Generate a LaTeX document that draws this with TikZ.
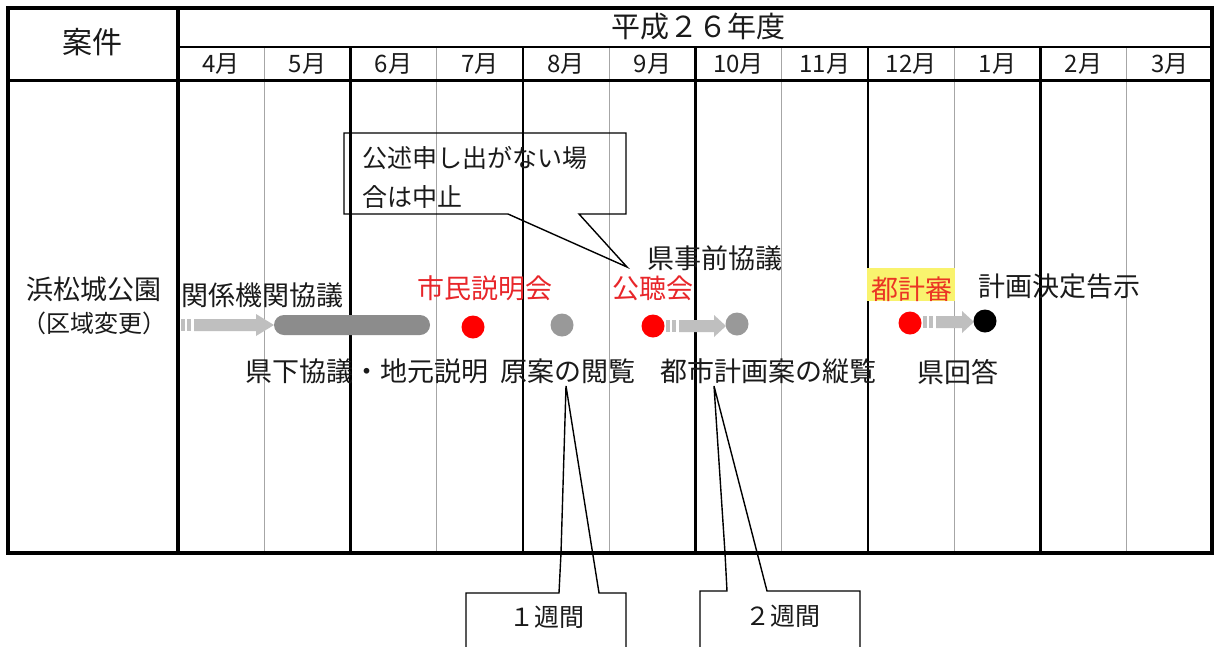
\documentclass[tikz,border=0pt]{standalone}
\usepackage{fontspec}
\newfontfamily\jp{Noto Sans CJK JP}
\definecolor{thingray}{HTML}{A6A6A6}
\definecolor{arrowgray}{HTML}{BFBFBF}
\definecolor{bargray}{HTML}{8C8C8C}
\definecolor{dotgray}{HTML}{999999}
\definecolor{redtxt}{HTML}{E8262A}
\definecolor{hilite}{HTML}{F9F36E}
\definecolor{txt}{HTML}{1A1A1A}
\newcommand\stripedarrow[4]{% x1, x2, y, head length
  \fill[arrowgray] ({#1},{#3-6}) rectangle ({#1+4},{#3+6});
  \fill[arrowgray] ({#1+6},{#3-6}) rectangle ({#1+10},{#3+6});
  \fill[arrowgray] ({#1+13},{#3-6}) -- ({#2-#4},{#3-6}) -- ({#2-#4},{#3-11}) -- ({#2},{#3}) -- ({#2-#4},{#3+11}) -- ({#2-#4},{#3+6}) -- ({#1+13},{#3+6}) -- cycle;
}
\begin{document}
\begin{tikzpicture}[x=1pt,y=-1pt,
  lbl/.style={font=\jp\fontsize{27}{27}\selectfont, inner sep=0, text=txt},
  redlbl/.style={lbl, text=redtxt},
  month/.style={font=\jp\fontsize{24}{24}\selectfont, inner sep=0, text=txt},
  head/.style={font=\jp\fontsize{30}{30}\selectfont, inner sep=0, text=txt},
  note/.style={font=\jp\fontsize{25}{25}\selectfont, inner sep=0, text=txt},
  thick line/.style={line width=2.5pt, black},
  thin line/.style={line width=1pt, thingray},
  dot/.style={circle, inner sep=0, minimum size=23pt},
  callout/.style={line width=1.4pt, black, line join=miter}]
\useasboundingbox (0,0) rectangle (1215,646);
\fill[white] (0,0) rectangle (1215,646);

% month grid lines
\foreach \i in {1,...,11}{
  \pgfmathsetmacro\xx{178+86.25*\i}
  \pgfmathtruncatemacro\m{mod(\i,2)}
  \ifnum\m=0
    \draw[thick line] (\xx,47) -- (\xx,553);
  \else
    \draw[thin line] (\xx,47) -- (\xx,553);
  \fi
}
% header lines
\draw[line width=2.5pt] (178,47) -- (1212,47);
\draw[line width=3pt] (8,80) -- (1212,80);
\draw[line width=4pt] (178,8) -- (178,553);
\draw[line width=4pt] (8,8) rectangle (1212,553);

% header texts
\node[head] (anken) at (92,42) {案件};
\node[head, font=\jp\fontsize{29}{29}\selectfont] (nendo) at (698,27) {平成２６年度};
\foreach \lab [count=\i from 0] in {4月,5月,6月,7月,8月,9月,10月,11月,12月,1月,2月,3月}{
  \node[month] (m\i) at ({178+86.25*(\i+0.5)},64) {\lab};
}

% row label
\node[lbl] (park) at (94,289) {浜松城公園};
\node[font=\jp\fontsize{24}{24}\selectfont, inner sep=0, text=txt] (area) at (94,323) {（区域変更）};

% events
\node[lbl] (kankei) at (262,295) {関係機関協議};
\stripedarrow{181}{274}{325}{18}
\fill[bargray, rounded corners=10pt] (274,315) rectangle (430,335);
\node[lbl] (kenka) at (367,371) {県下協議・地元説明};

\node[dot, fill=red] (d1) at (473,327) {};
\node[redlbl] (shimin) at (485,288) {市民説明会};

\node[dot, fill=dotgray] (d2) at (562,325) {};
\node[lbl] (genan) at (568,371) {原案の閲覧};

\node[dot, fill=red] (d3) at (653,326) {};
\node[redlbl] (kocho) at (653,288) {公聴会};
\node[lbl] (jizen) at (715,258) {県事前協議};
\stripedarrow{666}{726}{326}{12}
\node[dot, fill=dotgray] (d4) at (737,324) {};
\node[lbl] (juran) at (768,371) {都市計画案の縦覧};

\fill[hilite] (867,268) rectangle (955,301);
\node[lbl, text=redtxt!85!orange] (tokei) at (912,289) {都計審};
\node[dot, fill=red] (d5) at (910,323) {};
\stripedarrow{923}{974}{322}{12}
\node[dot, fill=black] (d6) at (985,321) {};
\node[lbl] (kokuji) at (1059,286) {計画決定告示};
\node[lbl] (kaito) at (958,372) {県回答};

% callout top
\coordinate (tip1) at (627,267);
\draw[callout] (344,133) -- (626,133) -- (626,214) -- (579,214) -- (tip1) -- (508,214) -- (344,214) -- cycle;
\node[note, anchor=west] (c1a) at (362,158) {公述申し出がない場};
\node[note, anchor=west] (c1b) at (362,197) {合は中止};

% callout bottom 1
\coordinate (tip2) at (566,386);
\draw[callout] (466,660) -- (466,593) -- (559,593) -- (561,553) -- (tip2) -- (599,593) -- (626,593) -- (626,660);
\node[note] (w1) at (547,617) {１週間};

% callout bottom 2
\coordinate (tip3) at (714,386);
\draw[callout] (700,660) -- (700,591) -- (727,591) -- (725,553) -- (tip3) -- (767,591) -- (860,591) -- (860,660);
\node[note] (w2) at (783,616) {２週間};
\end{tikzpicture}
\end{document}
